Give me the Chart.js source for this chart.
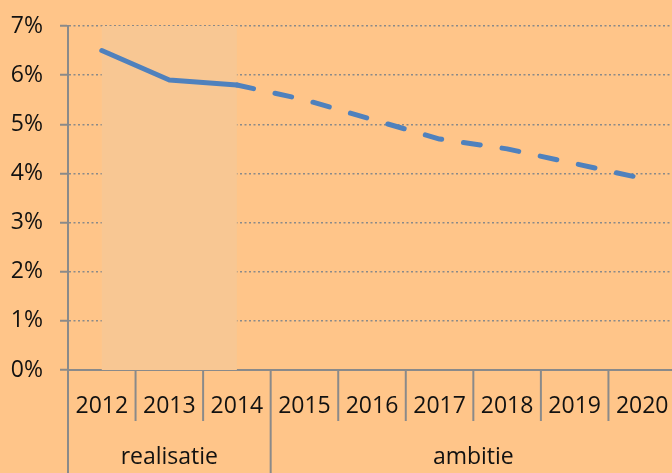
<!DOCTYPE html>
<html>
<head>
<meta charset="utf-8">
<script src="https://cdn.jsdelivr.net/npm/chart.js@4/dist/chart.umd.min.js"></script>
<style>
    html, body { margin: 0; padding: 0; background: #FFC589; overflow: hidden; }
    #wrap { width: 672px; height: 473px; overflow: hidden; }
</style>
</head>
<body>
<div id="wrap"><canvas id="rate-chart" width="676" height="473"></canvas></div>
<script>
const years = ['2012', '2013', '2014', '2015', '2016', '2017', '2018', '2019', '2020'];
const realisatie = [6.5, 5.9, 5.8, null, null, null, null, null, null];
const ambitie = [null, null, 5.8, 5.5, 5.1, 4.7, 4.5, 4.2, 3.9];
const groupLabels = ['realisatie', 'ambitie'];
const groupSizes = [3, 6];
const shadedRange = [0, 2];

const textColor = '#111111';
const axisColor = '#8a8a8a';
const lineColor = '#4F81BD';
const fontFamily = '"Open Sans", "Liberation Sans", sans-serif';
const fontSize = 23;

Chart.defaults.font.family = fontFamily;
Chart.defaults.color = textColor;

// background, shaded realisatie band, x axis separators and group labels
const decorations = {
    id: 'decorations',
    beforeDraw(chart) {
        const ctx = chart.ctx;
        ctx.save();
        ctx.fillStyle = '#FFC589';
        ctx.fillRect(0, 0, chart.width, chart.height);
        ctx.restore();
    },
    beforeDatasetsDraw(chart) {
        const { ctx, chartArea, scales: { x } } = chart;
        const x1 = x.getPixelForValue(shadedRange[0]);
        const x2 = x.getPixelForValue(shadedRange[1]);
        ctx.save();
        ctx.fillStyle = '#F8C793';
        ctx.fillRect(x1, chartArea.top, x2 - x1, chartArea.bottom - chartArea.top);
        ctx.restore();
    },
    afterDraw(chart) {
        const { ctx, chartArea, scales: { x } } = chart;
        const step = x.getPixelForValue(1) - x.getPixelForValue(0);
        const bottom = chart.height;
        const rowEnd = chartArea.bottom + 51;

        const groupEdges = [0];
        groupSizes.forEach(s => groupEdges.push(groupEdges[groupEdges.length - 1] + s));

        ctx.save();
        ctx.strokeStyle = axisColor;
        ctx.lineWidth = 2;
        for (let i = 0; i <= years.length; i++) {
            const bx = x.getPixelForValue(0) - step / 2 + i * step;
            const isGroup = groupEdges.includes(i);
            ctx.beginPath();
            ctx.moveTo(bx, chartArea.bottom);
            ctx.lineTo(bx, isGroup ? bottom : rowEnd);
            ctx.stroke();
        }

        ctx.fillStyle = textColor;
        ctx.font = fontSize + 'px ' + fontFamily;
        ctx.textAlign = 'center';
        ctx.textBaseline = 'middle';
        groupLabels.forEach((label, g) => {
            const left = x.getPixelForValue(0) - step / 2 + groupEdges[g] * step;
            const right = x.getPixelForValue(0) - step / 2 + groupEdges[g + 1] * step;
            ctx.fillText(label, (left + right) / 2, 457);
        });
        ctx.restore();
    }
};

new Chart(document.getElementById('rate-chart'), {
    type: 'line',
    plugins: [decorations],
    data: {
        labels: years,
        datasets: [
            {
                label: 'realisatie',
                data: realisatie,
                borderColor: lineColor,
                borderWidth: 5,
                borderCapStyle: 'round',
                borderJoinStyle: 'round',
                pointRadius: 0,
                tension: 0,
                fill: false,
            },
            {
                label: 'ambitie',
                data: ambitie,
                borderColor: lineColor,
                borderWidth: 5,
                borderDash: [17, 22],
                borderCapStyle: 'round',
                borderJoinStyle: 'round',
                pointRadius: 0,
                tension: 0,
                fill: false,
            }
        ]
    },
    options: {
        responsive: false,
        animation: false,
        layout: {
            padding: { top: 26, right: 0, bottom: 0, left: 0 }
        },
        plugins: {
            legend: { display: false },
            tooltip: { enabled: false }
        },
        scales: {
            x: {
                offset: true,
                grid: {
                    display: true,
                    drawOnChartArea: false,
                    tickLength: 23,
                    tickColor: 'rgba(0,0,0,0)'
                },
                border: { color: axisColor, width: 2 },
                ticks: {
                    padding: 0,
                    maxRotation: 0,
                    autoSkip: false,
                    color: textColor,
                    font: { size: fontSize }
                },
                afterFit: (scale) => { scale.height = 103; }
            },
            y: {
                min: 0,
                max: 7,
                grid: {
                    color: axisColor,
                    lineWidth: 1.5,
                    tickLength: 8,
                    tickColor: axisColor,
                    tickWidth: 2,
                    tickBorderDash: []
                },
                border: { color: axisColor, width: 2, dash: [2, 2.5] },
                ticks: {
                    stepSize: 1,
                    padding: 17,
                    color: textColor,
                    font: { size: fontSize },
                    callback: (v) => v + '%'
                },
                afterFit: (scale) => {
                    scale.width = 68;
                    scale.paddingTop = 0;
                    scale.paddingBottom = 0;
                }
            }
        }
    }
});
</script>
</body>
</html>
